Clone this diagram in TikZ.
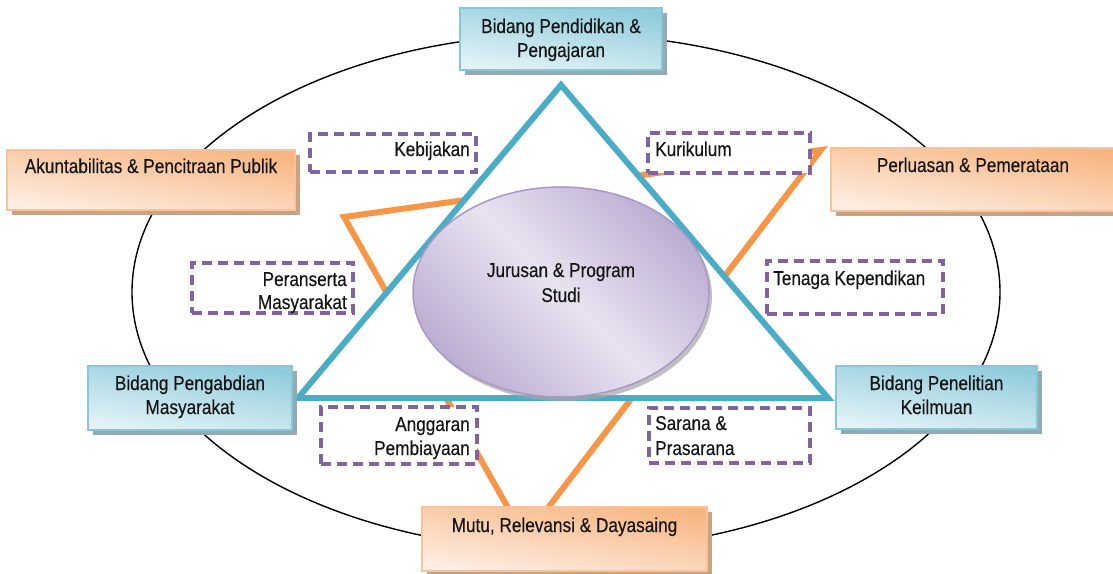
\documentclass[tikz,border=0pt]{standalone}
\usepackage{fontspec}
\setmainfont[FakeStretch=0.86,FakeBold=0.3]{Liberation Sans}
\usetikzlibrary{shadows,shapes.geometric}

\definecolor{tealline}{HTML}{4BACC6}
\definecolor{orangeline}{HTML}{F79646}
\definecolor{purpledash}{HTML}{8064A2}
\definecolor{bborder}{HTML}{86C8D8}
\definecolor{btop}{HTML}{8FCBDB}
\definecolor{bbot}{HTML}{E4F3F7}
\definecolor{bshadow}{HTML}{92AAB4}
\definecolor{oborder}{HTML}{F9C299}
\definecolor{otop}{HTML}{F8B581}
\definecolor{obot}{HTML}{FDEEE3}
\definecolor{oshadow}{HTML}{C9A283}
\definecolor{lavdark}{HTML}{BDAED3}
\definecolor{lavlight}{HTML}{E8E3F0}
\definecolor{lavborder}{HTML}{A898C6}
\definecolor{textcol}{HTML}{141414}

\tikzset{
  boxbase/.style={rectangle, inner sep=0pt, line width=1.5pt},
  bluebox/.style={boxbase, draw=bborder, top color=btop, bottom color=bbot,
    shading angle=-9,
    drop shadow={shadow xshift=5pt, shadow yshift=-5pt, fill=bshadow, opacity=1}},
  orangebox/.style={boxbase, draw=oborder, top color=otop, bottom color=obot,
    shading angle=-9,
    drop shadow={shadow xshift=5pt, shadow yshift=-5pt, fill=oshadow, opacity=1}},
  dashbox/.style={rectangle, inner sep=0pt, draw=purpledash, fill=white,
    line width=3.2pt, dash pattern=on 10pt off 6pt},
  core/.style={ellipse, inner sep=0pt, draw=lavborder, line width=1.5pt,
    left color=lavdark, right color=lavdark, middle color=lavlight,
    shading angle=-45,
    drop shadow={shadow xshift=3pt, shadow yshift=-4pt, fill=gray!70, opacity=0.7}},
  lbl/.style={anchor=base, inner sep=0pt, text=textcol,
    font=\fontsize{20}{24}\selectfont},
  lblL/.style={lbl, anchor=base west},
  lblR/.style={lbl, anchor=base east},
  ring/.style={draw=black, line width=1.4pt},
  tealtri/.style={draw=tealline, fill=white, line width=6pt, line join=miter},
  orangetri/.style={draw=orangeline, line width=6pt, line join=miter},
}

\begin{document}
\begin{tikzpicture}[x=1pt, y=-1pt]
\clip (0,0) rectangle (1113,573);

% outer ring
\draw[ring] (566,292) ellipse [x radius=434, y radius=258];

% inverted orange triangle
\coordinate (o1) at (344,217);
\coordinate (o2) at (821,150);
\coordinate (o3) at (525,538);
\draw[orangetri] (o1) -- (o2) -- (o3) -- cycle;

% teal triangle
\coordinate (t1) at (561,85);
\coordinate (t2) at (298,398);
\coordinate (t3) at (828,398);
\draw[tealtri] (t1) -- (t2) -- (t3) -- cycle;

% central ellipse
\node[core, minimum width=296pt, minimum height=210pt] (prodi) at (561,292) {};
\node[lbl] (prodiA) at (561,277) {Jurusan \& Program};
\node[lbl] (prodiB) at (561,302) {Studi};

% dashed element boxes
\node[dashbox, minimum width=166pt, minimum height=38pt] (kebijakan) at (393,153) {};
\node[lblR] (kebijakanT) at (470,156) {Kebijakan};

\node[dashbox, minimum width=162pt, minimum height=40pt] (kurikulum) at (729,153) {};
\node[lblL] (kurikulumT) at (655,156) {Kurikulum};

\node[dashbox, minimum width=161pt, minimum height=50pt] (peran) at (272.5,288) {};
\node[lblR] (peranA) at (347,286) {Peranserta};
\node[lblR] (peranB) at (347,309) {Masyarakat};

\node[dashbox, minimum width=176pt, minimum height=53pt] (tenaga) at (855,287.5) {};
\node[lblL] (tenagaT) at (773,285) {Tenaga Kependikan};

\node[dashbox, minimum width=156pt, minimum height=57pt] (anggaran) at (399,435.5) {};
\node[lblR] (anggaranA) at (470,431) {Anggaran};
\node[lblR] (anggaranB) at (470,455) {Pembiayaan};

\node[dashbox, minimum width=161pt, minimum height=55pt] (sarana) at (729.5,435.5) {};
\node[lblL] (saranaA) at (655,430) {Sarana \&};
\node[lblL] (saranaB) at (655,455) {Prasarana};

% teal field boxes
\node[bluebox, minimum width=202pt, minimum height=62pt] (didik) at (561,39) {};
\node[lbl] (didikA) at (561,33) {Bidang Pendidikan \&};
\node[lbl] (didikB) at (561,57) {Pengajaran};

\node[bluebox, minimum width=204pt, minimum height=64pt] (abdi) at (190,398) {};
\node[lbl] (abdiA) at (190,390) {Bidang Pengabdian};
\node[lbl] (abdiB) at (190,414) {Masyarakat};

\node[bluebox, minimum width=201pt, minimum height=63pt] (teliti) at (936.5,397.5) {};
\node[lbl] (telitiA) at (936.5,390) {Bidang Penelitian};
\node[lbl] (telitiB) at (936.5,414) {Keilmuan};

% orange policy boxes
\node[orangebox, minimum width=288pt, minimum height=60pt] (akun) at (151,180) {};
\node[lbl] (akunT) at (151,173) {Akuntabilitas \& Pencitraan Publik};

\node[orangebox, minimum width=284pt, minimum height=63pt] (luas) at (973,179.5) {};
\node[lbl] (luasT) at (973,172) {Perluasan \& Pemerataan};

\node[orangebox, minimum width=285pt, minimum height=64pt] (mutu) at (564.5,539) {};
\node[lbl] (mutuT) at (564.5,532) {Mutu, Relevansi \& Dayasaing};
\end{tikzpicture}
\end{document}
